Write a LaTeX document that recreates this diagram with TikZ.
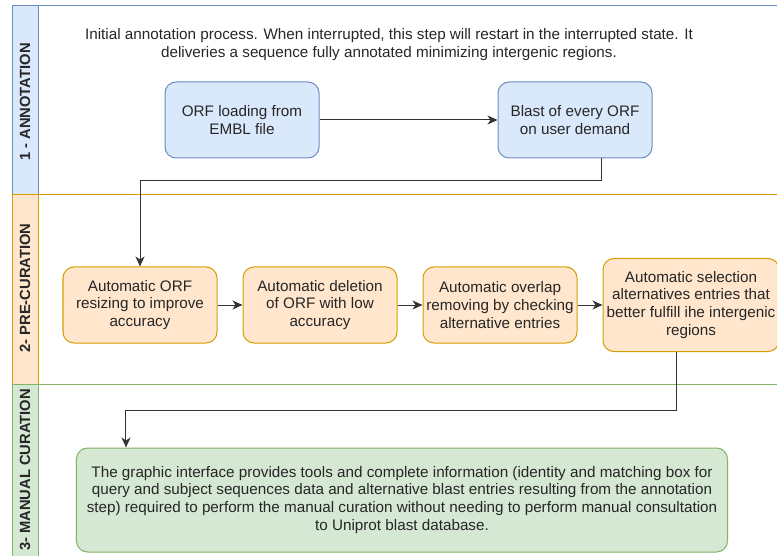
\documentclass[tikz,border=0pt]{standalone}
\usepackage{fontspec}
\setmainfont{Liberation Sans}
\usetikzlibrary{positioning,arrows.meta}

\definecolor{bluefill}{HTML}{DAE8FC}
\definecolor{blueline}{HTML}{6C8EBF}
\definecolor{orangefill}{HTML}{FFE6CC}
\definecolor{orangeline}{HTML}{D79B00}
\definecolor{greenfill}{HTML}{D5E8D4}
\definecolor{greenline}{HTML}{82B366}

\begin{document}
\begin{tikzpicture}[x=1bp,y=-1bp,node distance=25bp,
    font=\fontsize{15.3}{18}\selectfont,text=black!85,
    stepbox/.style={rectangle, rounded corners=11bp, line width=1bp, align=center,
        minimum width=154bp, minimum height=76bp, inner sep=1bp},
    bluebox/.style={stepbox, draw=blueline, fill=bluefill},
    orangebox/.style={stepbox, draw=orangeline, fill=orangefill},
    greenbox/.style={stepbox, draw=greenline, fill=greenfill},
    lanelabel/.style={rotate=90, inner sep=1bp, font=\fontsize{14.8}{18}\selectfont\bfseries},
    flow/.style={draw=black!80, line width=1bp, -{Stealth[length=10bp,width=9bp,inset=3bp]}}]
    \useasboundingbox (0,0) rectangle (777,556);
    \clip (0,0) rectangle (777,556);
    %Lanes
    \draw[blueline, line width=1bp] (12,6) rectangle (800,195);
    \draw[blueline, fill=bluefill, line width=1bp] (12,6) rectangle (38,195);
    \draw[orangeline, line width=1bp] (12,195) rectangle (800,384);
    \draw[orangeline, fill=orangefill, line width=1bp] (12,195) rectangle (38,384);
    \draw[greenline, line width=1bp] (12,384) rectangle (800,580);
    \draw[greenline, fill=greenfill, line width=1bp] (12,384) rectangle (38,580);
    \node[lanelabel] (lane1) at (25,102) {1 - ANNOTATION};
    \node[lanelabel] (lane2) at (25,288) {2- PRE-CURATION};
    \node[lanelabel] (lane3) at (25,470) {3- MANUAL CURATION};
    %Nodes
    \node[align=center] (intro) at (389,45)
        {Initial annotation process. When interrupted, this step will restart in the interrupted state. It\\
         deliveries a sequence fully annotated minimizing intergenic regions.};
    \node[bluebox] (orf) at (242,120) {ORF loading from\\EMBL file};
    \node[bluebox] (blast) [right=178bp of orf] {Blast of every ORF\\on user demand};
    \node[orangebox] (resize) at (140,305) {Automatic ORF\\resizing to improve\\accuracy};
    \node[orangebox] (delete) [right=of resize] {Automatic deletion\\of ORF with low\\accuracy};
    \node[orangebox] (overlap) [right=of delete] {Automatic overlap\\removing by checking\\alternative entries};
    \node[orangebox, minimum width=176bp, minimum height=93bp] (select) [right=of overlap]
        {Automatic selection\\alternatives entries that\\better fulfill ihe intergenic\\regions};
    \node[greenbox, minimum width=651bp, minimum height=104bp] (manual) at (402,500)
        {The graphic interface provides tools and complete information (identity and matching box for\\
         query and subject sequences data and alternative blast entries resulting from the annotation\\
         step) required to perform the manual curation without needing to perform manual consultation\\
         to Uniprot blast database.};
    %Lines
    \draw[flow] (orf) -- (blast);
    \draw[flow] ([xshift=26bp]blast.south) -- ++(0,22) -| (resize.north);
    \draw[flow] (resize) -- (delete);
    \draw[flow] (delete) -- (overlap);
    \draw[flow] (overlap) -- (select);
    \draw[flow] ([xshift=-15bp]select.south) -- ++(0,58) -| ([xshift=50bp]manual.north west);
\end{tikzpicture}
\end{document}
